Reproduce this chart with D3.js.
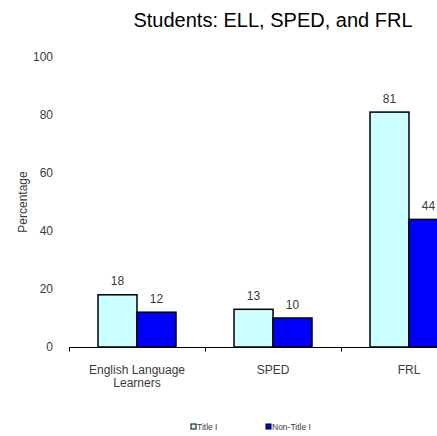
<!DOCTYPE html>
<html>
<head>
<meta charset="utf-8">
<script src="https://cdn.jsdelivr.net/npm/d3@7"></script>
<style>
  html, body { margin: 0; padding: 0; background: #fff; overflow: hidden; }
  svg { display: block; font-family: "Liberation Sans", Arial, sans-serif; }
</style>
</head>
<body>
<svg id="chart" width="437" height="436"></svg>
<script>
// Student population shares by school type
const categories = ["English Language Learners", "SPED", "FRL"];
const categoryLines = [["English Language", "Learners"], ["SPED"], ["FRL"]];
const seriesNames = ["Title I", "Non-Title I"];
const titleI = [18, 13, 81];
const nonTitleI = [12, 10, 44];
const yTicks = [0, 20, 40, 60, 80, 100];
const seriesColors = ["#ccffff", "#0000ff"];

const svg = d3.select("#chart");
const plotLeft = 69, plotRight = 477, plotTop = 57, plotBottom = 347;
const textColor = "#3a3a3a";

const x = d3.scaleBand().domain(categories).range([plotLeft, plotRight]).paddingInner(0).paddingOuter(0);
const x1 = d3.scaleBand().domain(seriesNames).range([0, 78]);
const y = d3.scaleLinear().domain([0, 100]).range([plotBottom, plotTop]);

const rows = categories.map((c, i) => ({ cat: c, values: [titleI[i], nonTitleI[i]] }));

// Title
svg.append("text")
  .attr("x", (plotLeft + plotRight) / 2).attr("y", 27)
  .attr("text-anchor", "middle")
  .attr("font-size", 20).attr("fill", "#000")
  .text("Students: ELL, SPED, and FRL");

// Y tick labels (no axis line)
svg.append("g").selectAll("text").data(yTicks).join("text")
  .attr("x", 53).attr("y", d => y(d) + 4.3)
  .attr("text-anchor", "end")
  .attr("font-size", 12).attr("fill", textColor)
  .text(d => d);

// Y axis title
svg.append("text")
  .attr("transform", `translate(26.5,${(plotTop + plotBottom) / 2}) rotate(-90)`)
  .attr("text-anchor", "middle")
  .attr("font-size", 12).attr("fill", textColor)
  .text("Percentage");

// Bars
const groups = svg.append("g").selectAll("g").data(rows).join("g")
  .attr("transform", d => `translate(${x(d.cat) + x.bandwidth() / 2 - 39},0)`);

groups.selectAll("rect").data(d => d.values.map((v, j) => ({ v, s: seriesNames[j], j })))
  .join("rect")
  .attr("x", d => x1(d.s))
  .attr("y", d => y(d.v))
  .attr("width", x1.bandwidth())
  .attr("height", d => y(0) - y(d.v))
  .attr("fill", d => seriesColors[d.j])
  .attr("stroke", "#000").attr("stroke-width", 1.5);

groups.selectAll("text.val").data(d => d.values.map((v, j) => ({ v, s: seriesNames[j] })))
  .join("text").attr("class", "val")
  .attr("x", d => x1(d.s) + x1.bandwidth() / 2)
  .attr("y", d => y(d.v) - 9.5)
  .attr("text-anchor", "middle")
  .attr("font-size", 12).attr("fill", textColor)
  .text(d => d.v);

// X axis line and ticks
const xAxis = svg.append("g").attr("transform", `translate(0,${plotBottom + 0.5})`);
xAxis.append("line").attr("x1", plotLeft).attr("x2", plotRight)
  .attr("stroke", "#000").attr("stroke-width", 1);
xAxis.selectAll("line.tick").data(categories).join("line").attr("class", "tick")
  .attr("x1", d => x(d) + 0.5).attr("x2", d => x(d) + 0.5)
  .attr("y1", 0).attr("y2", 4)
  .attr("stroke", "#000");

// Category labels
categories.forEach((c, i) => {
  const cx = x(c) + x.bandwidth() / 2;
  const t = svg.append("text")
    .attr("x", cx).attr("y", 374)
    .attr("text-anchor", "middle")
    .attr("font-size", 12).attr("fill", textColor);
  categoryLines[i].forEach((line, k) => {
    t.append("tspan").attr("x", cx).attr("dy", k === 0 ? 0 : 13).text(line);
  });
});

// Legend
const legendX = [191, 266];
const legend = svg.append("g").selectAll("g").data(seriesNames).join("g")
  .attr("transform", (d, i) => `translate(${legendX[i]},424)`);
legend.append("rect").attr("width", 5).attr("height", 5)
  .attr("fill", (d, i) => seriesColors[i]).attr("stroke", "#000").attr("stroke-width", 1);
legend.append("text").attr("x", 6).attr("y", 6)
  .attr("font-size", 8.5).attr("fill", textColor)
  .text(d => d);
</script>
</body>
</html>
